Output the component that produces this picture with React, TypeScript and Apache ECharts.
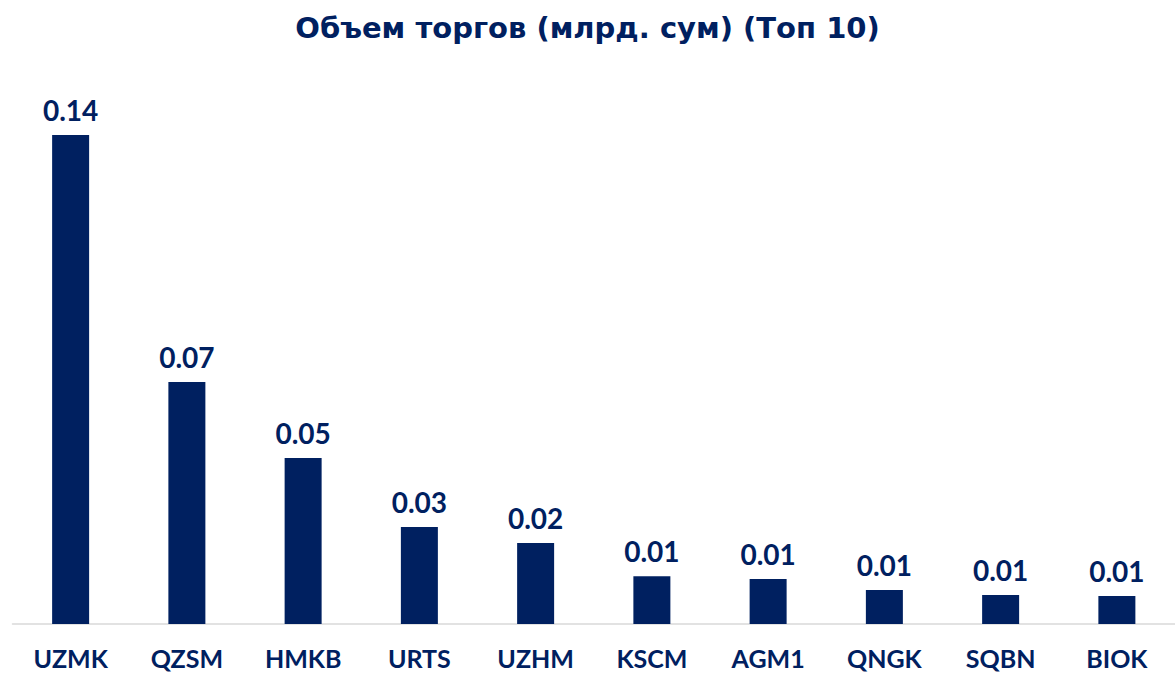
import React, { useEffect, useRef } from "react";
import * as echarts from "echarts";

const categories = ["UZMK", "QZSM", "HMKB", "URTS", "UZHM", "KSCM", "AGM1", "QNGK", "SQBN", "BIOK"];
const values = [0.14, 0.0693, 0.0475, 0.0278, 0.0232, 0.0137, 0.0129, 0.0097, 0.0083, 0.008];
const titleText = "Объем торгов (млрд. сум) (Топ 10)";

const NAVY = "#002060";

export default function App() {
  const ref = useRef<HTMLDivElement>(null);
  useEffect(() => {
    const chart = echarts.init(ref.current!, null, { renderer: "svg" });
    chart.setOption({
      animation: false,
      backgroundColor: "#ffffff",
      title: {
        text: titleText,
        left: "center",
        top: 8,
        textStyle: { color: NAVY, fontSize: 29, fontWeight: "bold", fontFamily: "DejaVu Sans" },
      },
      grid: { left: 12.5, right: -7, top: 100, bottom: 52 },
      xAxis: {
        type: "category",
        data: categories,
        axisLine: { lineStyle: { color: "#d9d9d9", width: 1.5 } },
        axisTick: { show: false },
        axisLabel: {
          color: NAVY,
          fontSize: 25,
          fontWeight: "bold",
          fontFamily: "Lato",
          margin: 21,
        },
      },
      yAxis: {
        type: "value",
        min: 0,
        max: 0.15,
        show: false,
        splitLine: { show: false },
      },
      series: [
        {
          type: "bar",
          data: values,
          barWidth: 37,
          itemStyle: { color: NAVY },
          label: {
            show: true,
            position: "top",
            distance: 11,
            color: NAVY,
            fontSize: 28,
            fontWeight: "bold",
            fontFamily: "Lato",
            formatter: (p: any) => Number(p.value).toFixed(2),
          },
        },
      ],
    });
    return () => chart.dispose();
  }, []);
  return (
    <div
      ref={ref}
      style={{ position: "absolute", left: 0, top: 0, width: 1175, height: 676 }}
    />
  );
}
